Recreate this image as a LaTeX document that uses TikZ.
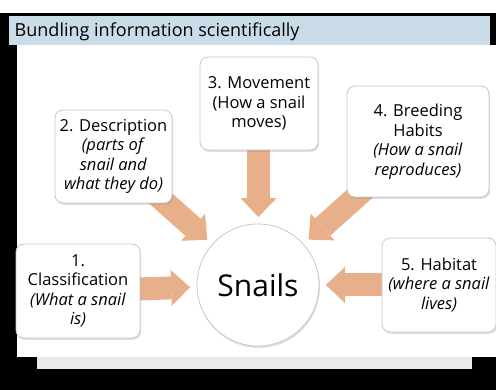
\documentclass[tikz,border=0pt]{standalone}
\usepackage{fontspec}
\setmainfont{Open Sans}
\usetikzlibrary{arrows.meta}
\usetikzlibrary{shadows}

\definecolor{titleblue}{RGB}{203,220,233}
\definecolor{arrowtan}{RGB}{232,176,138}
\definecolor{boxline}{RGB}{200,200,200}
\definecolor{stripgray}{RGB}{233,233,233}

% layers: page frame at the back, then the fat arrows, then the boxes
\pgfdeclarelayer{frame}
\pgfdeclarelayer{feeds}
\pgfsetlayers{frame,feeds,main}

\tikzset{
	topic/.style={draw=boxline,fill=white,line width=0.8pt,rounded corners=8pt,
		align=center,inner sep=2pt,font=\fontsize{16.5}{19.5}\selectfont,
		drop shadow={shadow xshift=1.2pt,shadow yshift=-1.8pt,opacity=.25}},
	hub/.style={circle,draw=boxline,fill=white,line width=0.8pt,minimum size=122pt,
		font=\fontsize{30}{32}\selectfont,
		drop shadow={shadow xshift=1pt,shadow yshift=-2pt,opacity=.25}},
	bigarrow/.style={draw=arrowtan,line width=23pt,
		-{Triangle[width=36pt,length=19pt,line width=0pt]},
		shorten >=6.5pt,shorten <=-14pt}
}

\begin{document}
\begin{tikzpicture}[x=1pt,y=-1pt]
	\useasboundingbox (0,0) rectangle (496,390);
	
	\begin{pgfonlayer}{frame}
		\fill[white] (0,0) rectangle (496,390);
		\fill[black] (0,13) rectangle (496,390);
		\fill[titleblue] (9,16) rectangle (490,45);
		\fill[white] (17,45) rectangle (496,357);
		\fill[stripgray] (37,357) rectangle (472,369);
	\end{pgfonlayer}
	
	\node[anchor=base west,inner sep=0pt,font=\fontsize{18}{20}\selectfont] (title) at (14.5,37) {Bundling information scientifically};
	
	\node[topic,minimum width=124pt,minimum height=94pt] (classif) at (78,291) {1.\\Classification\\\textit{(What a snail}\\\textit{is)}};
	\node[topic,minimum width=117pt,minimum height=93pt] (descr) at (113.5,156.5) {2. Description\\\textit{(parts of}\\\textit{snail and}\\\textit{what they do)}};
	\node[topic,minimum width=118pt,minimum height=93pt] (move) at (259,103.5) {3. Movement\\(How a snail\\moves)};
	\node[topic,minimum width=142pt,minimum height=111pt] (breed) at (418,141.5) {4. Breeding\\Habits\\\textit{(How a snail}\\\textit{reproduces)}};
	\node[topic,minimum width=114pt,minimum height=94pt] (habitat) at (439,285) {5. Habitat\\\textit{(where a snail}\\\textit{lives)}};
	
	\node[hub] (snails) at (258,285) {Snails};
	
	\begin{pgfonlayer}{feeds}
		\foreach \src in {classif,descr,move,breed,habitat}
		\draw[bigarrow] (\src) -- (snails);
	\end{pgfonlayer}
\end{tikzpicture}
\end{document}
